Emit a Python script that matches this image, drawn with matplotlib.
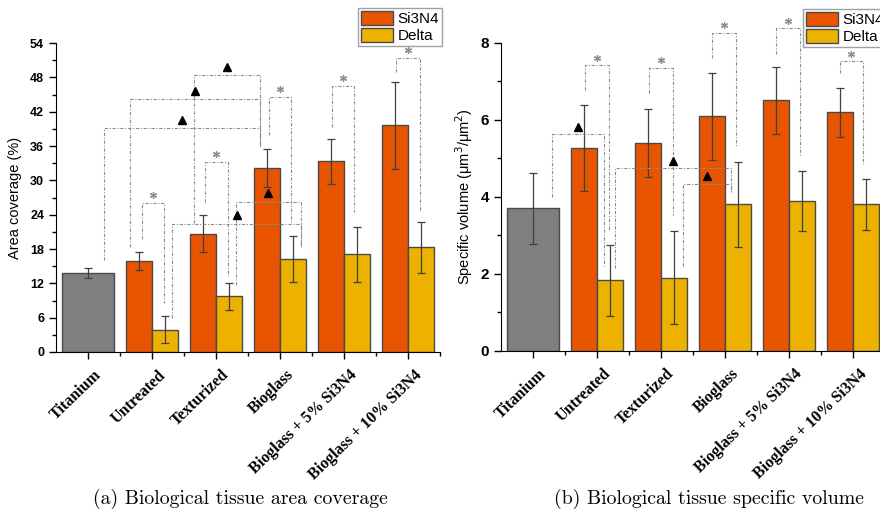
# bioglass / Si3N4 coatings: tissue area coverage and specific volume
import numpy as np
import matplotlib
matplotlib.use('Agg')
import matplotlib.pyplot as plt
from matplotlib.transforms import ScaledTranslation

plt.rcParams['font.family'] = ['Liberation Sans', 'DejaVu Sans']

groups = ['Titanium', 'Untreated', 'Texturized', 'Bioglass',
          'Bioglass + 5% Si3N4', 'Bioglass + 10% Si3N4']
series = ['Si3N4', 'Delta']

# (a) area coverage (%)
ti_area, ti_area_err = 13.8, 0.8
si_area = [15.9, 20.7, 32.2, 33.3, 39.6]
si_area_err = [1.5, 3.3, 3.3, 4.0, 7.6]
de_area = [3.9, 9.7, 16.2, 17.1, 18.3]
de_area_err = [2.4, 2.4, 4.0, 4.8, 4.5]

# (b) specific volume (um3/um2)
ti_vol, ti_vol_err = 3.70, 0.92
si_vol = [5.26, 5.39, 6.09, 6.51, 6.19]
si_vol_err = [1.12, 0.88, 1.13, 0.87, 0.63]
de_vol = [1.83, 1.90, 3.80, 3.89, 3.80]
de_vol_err = [0.92, 1.20, 1.10, 0.77, 0.67]

# significance brackets: (group a, bar a, dx a, group b, bar b, dx b, top, a bottom, b bottom, mark)
area_brackets = [
    (1, 'si', 0.04, 1, 'de', -0.01, 26.0, 19.7, 8.5, '*'),
    (2, 'si', 0.03, 2, 'de', -0.02, 33.2, 26.3, 13.2, '*'),
    (3, 'si', 0.03, 3, 'de', -0.03, 44.6, 37.9, 22.5, '*'),
    (4, 'si', 0.01, 4, 'de', -0.04, 46.5, 39.4, 24.4, '*'),
    (5, 'si', 0.02, 5, 'de', -0.02, 51.3, 49.0, 24.7, '*'),
    (0, 'ti', 0.25, 3, 'si', -0.12, 39.1, 16.1, 36.0, '^'),
    (1, 'si', -0.14, 3, 'si', -0.12, 44.2, 18.4, 36.0, '^'),
    (2, 'si', -0.14, 3, 'si', -0.12, 48.4, 22.5, 36.0, '^'),
    (1, 'de', 0.12, 3, 'de', 0.13, 22.4, 5.9, 18.4, '^'),
    (2, 'de', 0.11, 3, 'de', 0.13, 26.3, 11.7, 18.4, '^'),
]
vol_brackets = [
    (1, 'si', 0.02, 1, 'de', -0.01, 7.42, 6.77, 3.13, '*'),
    (2, 'si', 0.01, 2, 'de', -0.02, 7.35, 6.69, 3.52, '*'),
    (3, 'si', 0.00, 3, 'de', -0.03, 8.26, 7.59, 5.30, '*'),
    (4, 'si', 0.00, 4, 'de', -0.03, 8.37, 7.71, 5.08, '*'),
    (5, 'si', -0.01, 5, 'de', -0.04, 7.52, 7.22, 4.85, '*'),
    (0, 'ti', 0.30, 1, 'de', -0.09, 5.62, 4.00, 2.21, '^'),
    (1, 'de', 0.08, 3, 'de', -0.10, 4.74, 2.14, 4.13, '^'),
    (2, 'de', 0.15, 3, 'de', -0.10, 4.33, 2.21, 4.13, '^'),
]

c_si = '#E85400'
c_de = '#EDB200'
c_ti = '#7F7F7F'
edge = '#4a4a4a'
w = 0.4
shift = {'ti': 0.0, 'si': -w / 2, 'de': w / 2}


def draw(ax, ti, ti_err, si, si_err, de, de_err, brackets, ymax, ystep, mark_off):
    x = np.arange(1, len(groups))
    eb = dict(ecolor='#404040', elinewidth=0.9, capsize=3, capthick=0.9)
    ax.bar([0], [ti], 2 * w, yerr=[ti_err], color=c_ti, edgecolor=edge, lw=1, error_kw=eb)
    ax.bar(x - w / 2, si, w, yerr=si_err, color=c_si, edgecolor=edge, lw=1,
           error_kw=eb, label=series[0])
    ax.bar(x + w / 2, de, w, yerr=de_err, color=c_de, edgecolor=edge, lw=1,
           error_kw=eb, label=series[1])

    for ga, ba, dxa, gb, bb, dxb, top, ya, yb, mk in brackets:
        xa = ga + shift[ba] + dxa
        xb = gb + shift[bb] + dxb
        ax.plot([xa, xa, xb, xb], [ya, top, top, yb], color='#8c8c8c', lw=0.8,
                ls=(0, (3, 1.5, 1, 1.5)), clip_on=False, zorder=3)
        if mk == '*':
            ax.plot((xa + xb) / 2, top + mark_off, marker=(6, 2, 0), ms=5, mew=0.9,
                    color='#8c8c8c', clip_on=False, zorder=4)
        else:
            ax.plot((xa + xb) / 2, top + mark_off * 1.05, marker='^', ms=6,
                    color='black', clip_on=False, zorder=4)

    ax.set_xlim(-0.5, len(groups) - 0.5)
    ax.set_ylim(0, ymax)
    ax.set_yticks(np.arange(0, ymax + 0.01, ystep))
    ax.set_yticks(np.arange(0, ymax + 0.01, ystep / 2), minor=True)
    ax.set_xticks(np.arange(len(groups)))
    ax.set_xticks(np.arange(len(groups)) + 0.5, minor=True)
    ax.spines['top'].set_visible(False)
    ax.spines['right'].set_visible(False)
    ax.tick_params(which='major', direction='out', length=5, width=1)
    ax.tick_params(which='minor', direction='out', length=3, width=1)
    ax.set_xticklabels(groups, rotation=44, ha='right', va='center',
                       rotation_mode='anchor', family='Liberation Serif',
                       weight='bold', fontsize=11.5)
    for lbl in ax.get_xticklabels():
        lbl.set_transform(lbl.get_transform() +
                          ScaledTranslation(0.11, -0.09, ax.figure.dpi_scale_trans))


fig = plt.figure(figsize=(8.8, 5.11), dpi=100)
ax1 = fig.add_axes([56 / 880, 1 - 352 / 511, 384 / 880, 309 / 511])
ax2 = fig.add_axes([501 / 880, 1 - 350.7 / 511, 384 / 880, 308 / 511])

draw(ax1, ti_area, ti_area_err, si_area, si_area_err, de_area, de_area_err,
     area_brackets, 54, 6, 1.4)
draw(ax2, ti_vol, ti_vol_err, si_vol, si_vol_err, de_vol, de_vol_err,
     vol_brackets, 8, 2, 0.19)

for lbl in ax1.get_yticklabels():
    lbl.set_fontsize(9)
    lbl.set_fontweight('bold')
for lbl in ax2.get_yticklabels():
    lbl.set_fontsize(11)
    lbl.set_fontweight('bold')

ax1.set_ylabel('Area coverage (%)', fontsize=10.5, labelpad=6)
ax2.set_ylabel('Specific volume (μm$^3$/μm$^2$)', fontsize=10.5, labelpad=4)

leg_kw = dict(frameon=True, fancybox=False, edgecolor='#888888', fontsize=11,
              handlelength=2.1, handleheight=1.0, labelspacing=0.12,
              borderpad=0.2, borderaxespad=0, handletextpad=0.3)
l1 = ax1.legend(loc='upper right', bbox_to_anchor=(442 / 880, 1 - 8 / 511),
                bbox_transform=fig.transFigure, **leg_kw)
l2 = ax2.legend(loc='upper left', bbox_to_anchor=(803 / 880, 1 - 9 / 511),
                bbox_transform=fig.transFigure, **leg_kw)
for lg in (l1, l2):
    lg.get_frame().set_linewidth(1.0)

fig.text(240 / 880, 1 - 499 / 511, '(a) Biological tissue area coverage',
         family='cmr10', fontsize=14.3, ha='center', va='center')
fig.text(709 / 880, 1 - 499 / 511, '(b) Biological tissue specific volume',
         family='cmr10', fontsize=14.3, ha='center', va='center')

fig.savefig('out.png', dpi=100)
